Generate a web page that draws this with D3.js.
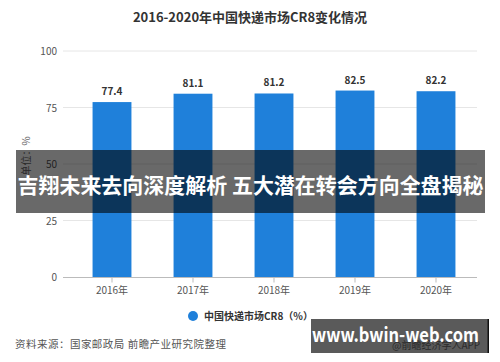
<!DOCTYPE html>
<html><head><meta charset="utf-8">
<script src="https://cdn.jsdelivr.net/npm/d3@7"></script>
<style>body{margin:0;background:#fff}svg{display:block}text{font-family:"Noto Sans CJK SC","Noto Sans",sans-serif}</style>
</head><body>
<svg id="c" width="500" height="362"></svg>
<script>
const title = "2016-2020年中国快递市场CR8变化情况";
const categories = ["2016年","2017年","2018年","2019年","2020年"];
const values = [77.4, 81.1, 81.2, 82.5, 82.2];
const yTicks = [0, 25, 50, 75, 100];
const yLabel = "单位：%";
const legendLabel = "中国快递市场CR8（%）";
const source = "资料来源：国家邮政局 前瞻产业研究院整理";
const banner = "吉翔未来去向深度解析 五大潜在转会方向全盘揭秘";
const stamp = "www.bwin-web.com";
const stampSub = "@前瞻经济学人APP";

const svg = d3.select("#c");
const y = d3.scaleLinear().domain([0,100]).range([277,51]);
const x = d3.scaleBand().domain(categories).range([71.5,476.5]).paddingInner(0.52).paddingOuter(0.26);

svg.append("text").attr("x",250).attr("y",22).attr("text-anchor","middle")
  .attr("font-size",13).attr("font-weight","bold").attr("fill","#333").text(title);

// grid
svg.append("g").selectAll("line").data(yTicks.filter(d=>d>0)).join("line")
  .attr("x1",63).attr("x2",477).attr("y1",d=>y(d)).attr("y2",d=>y(d))
  .attr("stroke","#e6e6e6").attr("stroke-width",1);
svg.append("g").selectAll("text").data(yTicks).join("text")
  .attr("x",57).attr("y",d=>y(d)+4).attr("text-anchor","end")
  .attr("font-size",10).attr("fill","#555").text(d=>d);
svg.append("text").attr("transform","translate(30,156) rotate(-90)").attr("text-anchor","middle")
  .attr("font-size",10).attr("fill","#666").text(yLabel);

// bars
svg.append("g").selectAll("rect").data(values).join("rect")
  .attr("x",(d,i)=>x(categories[i])).attr("width",x.bandwidth())
  .attr("y",d=>y(d)).attr("height",d=>y(0)-y(d)).attr("fill","#1f80da");
svg.append("g").selectAll("text").data(values).join("text")
  .attr("x",(d,i)=>x(categories[i])+x.bandwidth()/2).attr("y",d=>y(d)-7)
  .attr("text-anchor","middle").attr("font-size",10).attr("font-weight","bold")
  .attr("fill","#333").text(d=>d.toFixed(1));

// x axis
const xa = svg.append("g").attr("transform","translate(0,"+(y(0)+0.5)+")");
xa.append("line").attr("x1",63).attr("x2",477).attr("stroke","#bbb");
xa.selectAll(".t").data(categories).join("line").attr("class","t")
  .attr("x1",d=>x(d)+x.bandwidth()/2).attr("x2",d=>x(d)+x.bandwidth()/2)
  .attr("y1",0).attr("y2",5).attr("stroke","#bbb");
xa.selectAll("text").data(categories).join("text")
  .attr("x",d=>x(d)+x.bandwidth()/2).attr("y",16).attr("text-anchor","middle")
  .attr("font-size",10).attr("fill","#555").text(d=>d);

// legend
svg.append("circle").attr("cx",193).attr("cy",316).attr("r",5).attr("fill","#1f80da");
svg.append("text").attr("x",204).attr("y",320).attr("font-size",10).attr("font-weight","bold")
  .attr("fill","#333").text(legendLabel);

// source
svg.append("text").attr("x",15).attr("y",348).attr("font-size",10.5).attr("fill","#555")
  .attr("textLength",211).attr("lengthAdjust","spacing").text(source);

// banner overlay
svg.append("rect").attr("x",16).attr("y",150).attr("width",469).attr("height",63)
  .attr("fill","#000").attr("opacity",0.59);
svg.append("text").attr("x",250.5).attr("y",193).attr("text-anchor","middle")
  .attr("font-size",21).attr("font-weight","bold").attr("fill","#fff")
  .attr("textLength",466).attr("lengthAdjust","spacingAndGlyphs").text(banner);

// stamp box
svg.append("rect").attr("x",311).attr("y",319).attr("width",178).attr("height",34).attr("fill","#5a5a5a");
svg.append("rect").attr("x",487.5).attr("y",319).attr("width",1.5).attr("height",34).attr("fill","#111");
svg.append("text").attr("x",392).attr("y",349).attr("font-size",10).attr("fill","#2a2a2a").text(stampSub);
svg.append("text").attr("x",312).attr("y",342).attr("font-size",20).attr("font-weight","bold")
  .attr("fill","#fff").attr("textLength",167).attr("lengthAdjust","spacingAndGlyphs")
  .attr("font-family","'DejaVu Sans',sans-serif").text(stamp);
</script>
</body></html>
